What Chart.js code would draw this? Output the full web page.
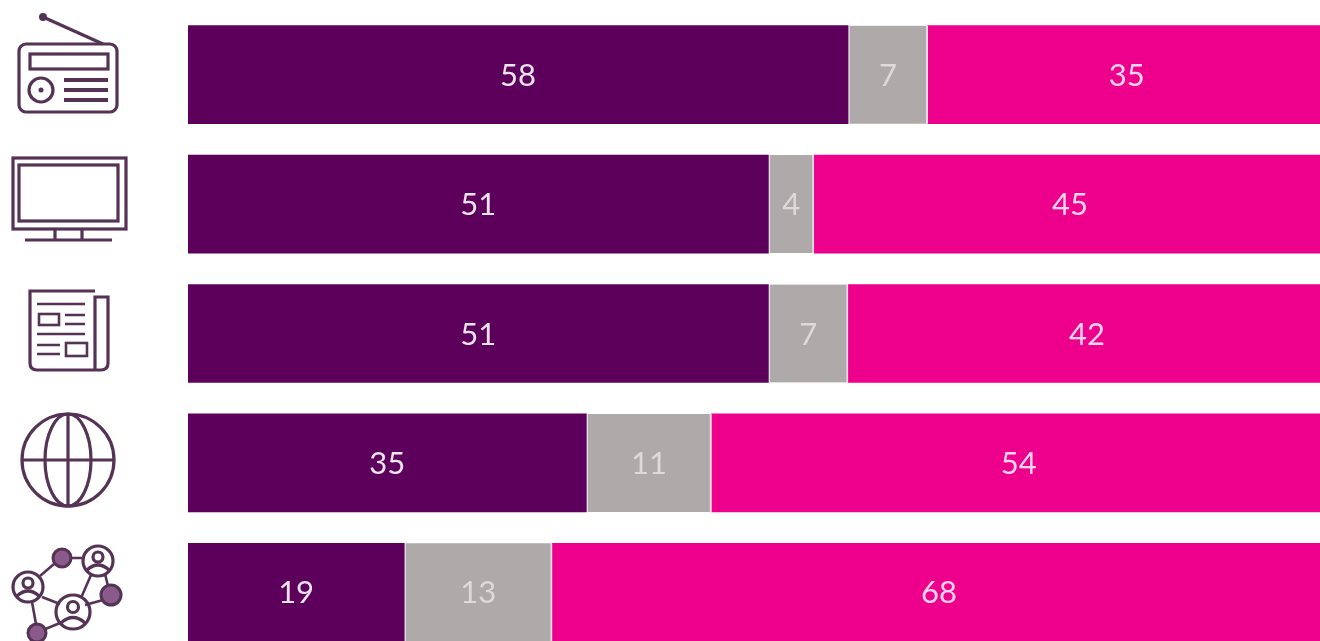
<!DOCTYPE html>
<html>
<head>
<meta charset="utf-8">
<title>Media trust</title>
<script src="https://cdn.jsdelivr.net/npm/chart.js@4"></script>
<style>
    html, body { margin: 0; padding: 0; background: #fff; overflow: hidden; }
    #wrap { position: relative; width: 1320px; height: 641px; overflow: hidden; }
    /* the bars run past the right and bottom edge of the picture, so the box is larger than the window */
    #box { position: absolute; left: 0; top: 0; width: 1326px; height: 660px; filter: blur(0.6px); }
    #icons { position: absolute; left: 0; top: 0; filter: blur(0.6px); }
    #icons * { fill: none; stroke: #553355; stroke-width: 3.2; }
    #icons .thin { stroke-width: 2.6; }
    #icons .dot { fill: #553355; stroke: none; }
    #icons .sm { fill: #8a5a8a; stroke-width: 3; }
</style>
</head>
<body>
<div id="wrap">
    <div id="box"><canvas id="chart"></canvas></div>
    <svg id="icons" width="190" height="641" viewBox="0 0 190 641">
        <!-- radio -->
        <rect x="19" y="44" width="98" height="68" rx="7"/>
        <path d="M43 17 L103 44"/>
        <circle class="dot" cx="43" cy="17" r="4"/>
        <rect x="30" y="54" width="78" height="15"/>
        <circle cx="41" cy="90" r="12"/>
        <circle class="dot" cx="41" cy="90" r="2.5"/>
        <path style="stroke-width:4" d="M64 80 H108 M64 90 H108 M64 100 H108"/>
        <!-- tv -->
        <rect x="13" y="158" width="113" height="71"/>
        <rect x="19" y="165" width="99" height="56"/>
        <path d="M55 229 V240 M82 229 V240 M25 240 H112"/>
        <!-- newspaper -->
        <path d="M95 291 H30 V363 Q30 370 37 370 H101 Q108 370 108 363 V297 H95 V370"/>
        <path class="thin" d="M37 304 H85 M65 315 H85 M65 324 H85 M37 334 H85 M37 345 H60 M37 354 H60"/>
        <rect class="thin" x="39" y="314" width="20" height="11"/>
        <rect class="thin" x="66" y="343" width="21" height="13"/>
        <!-- globe -->
        <circle cx="68" cy="460" r="46"/>
        <ellipse cx="68" cy="460" rx="23" ry="46"/>
        <path d="M68 414 V506 M22 460 H114"/>
        <!-- network -->
        <path class="thin" d="M70 558 H83 M40 576 L54 564 M91 575 L81 598 M105 574 L108 586 M85 605 L103 600 M42 597 L60 604 M32 602 L36 624 M43 630 L60 623"/>
        <circle class="sm" cx="62" cy="558" r="9"/>
        <circle class="sm" cx="111" cy="595" r="10"/>
        <circle class="sm" cx="37" cy="633" r="9"/>
        <circle cx="98" cy="561" r="15"/>
        <circle cx="28" cy="587" r="15"/>
        <circle cx="73" cy="612" r="17"/>
        <g class="thin">
            <circle cx="98" cy="557" r="5"/><path d="M87 570 Q98 560 109 570"/>
            <circle cx="28" cy="583" r="5"/><path d="M17 596 Q28 586 39 596"/>
            <circle cx="73" cy="607" r="5.5"/><path d="M61 623 Q73 612 85 623"/>
        </g>
    </svg>
</div>
<script>
const categories = ['Radio', 'Television', 'Newspapers', 'Internet', 'Social networks'];
const purpleValues = [58, 51, 51, 35, 19];
const greyValues = [7, 4, 7, 11, 13];
const pinkValues = [35, 45, 42, 54, 68];

const PURPLE = '#5c005c';
const GREY = '#aeaaaa';
const PINK = '#ec008c';

// writes each value in the middle of its bar segment
const valueLabels = {
    id: 'valueLabels',
    afterDatasetsDraw(chart) {
        const ctx = chart.ctx;
        ctx.save();
        ctx.font = '31px Lato';
        ctx.textAlign = 'center';
        ctx.textBaseline = 'middle';
        chart.data.datasets.forEach((ds, i) => {
            ctx.fillStyle = ds.labelColor;
            chart.getDatasetMeta(i).data.forEach((bar, j) => {
                const c = bar.getCenterPoint();
                ctx.fillText(ds.data[j], c.x, c.y + 1);
            });
        });
        ctx.restore();
    }
};

new Chart(document.getElementById('chart'), {
    type: 'bar',
    data: {
        labels: categories,
        datasets: [
            { data: purpleValues, backgroundColor: PURPLE, labelColor: '#ece4ec' },
            { data: greyValues, backgroundColor: GREY, borderColor: '#e6e0e6', borderWidth: { left: 2, right: 2 }, borderSkipped: false, labelColor: '#dcdada' },
            { data: pinkValues, backgroundColor: PINK, labelColor: '#fbd5ea' }
        ]
    },
    options: {
        indexAxis: 'y',
        responsive: true,
        maintainAspectRatio: false,
        animation: false,
        layout: { padding: { left: 188, right: 0, top: 10, bottom: 3 } },
        datasets: { bar: { barThickness: 98 } },
        scales: {
            x: { stacked: true, display: false, min: 0, max: 100 },
            y: { stacked: true, display: false }
        },
        plugins: { legend: { display: false }, tooltip: { enabled: false } }
    },
    plugins: [valueLabels]
});
</script>
</body>
</html>
